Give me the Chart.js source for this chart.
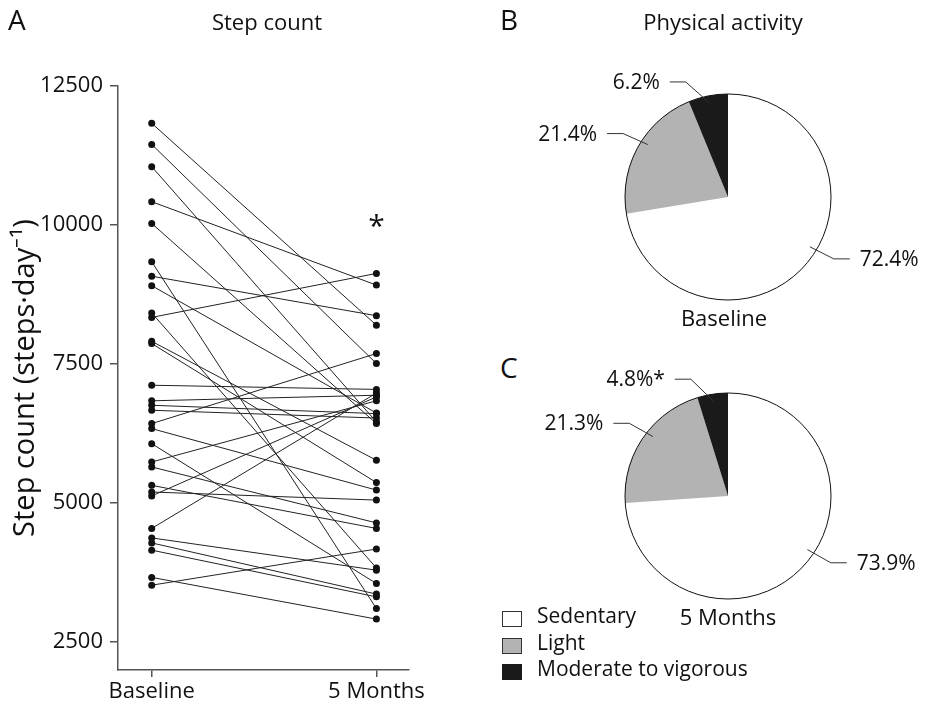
<!DOCTYPE html>
<html>
<head>
<meta charset="utf-8">
<script src="https://cdn.jsdelivr.net/npm/chart.js@4/dist/chart.umd.min.js"></script>
<style>
  body { margin: 0; background: #fff; }
  #page { position: relative; width: 928px; height: 707px; font-family: "Open Sans", sans-serif; color: #111; }
  #page canvas { position: absolute; }
  .txt { position: absolute; line-height: 1; white-space: nowrap; }
  .panel { font-size: 28px; }
  .head { font-size: 22px; text-align: center; width: 240px; }
  .legend-row { position: absolute; left: 502px; height: 18px; font-size: 21px; line-height: 1; }
  .legend-row span.box { position: absolute; left: 0; top: 3px; width: 18px; height: 14px; border: 1.5px solid #333; }
  .legend-row span.lbl { position: absolute; left: 35px; top: -3px; white-space: nowrap; }
</style>
</head>
<body>
<div id="page">
  <canvas id="stepChart" width="470" height="707" style="left:0;top:0"></canvas>
  <canvas id="pieBaseline" width="400" height="280" style="left:528px;top:57px"></canvas>
  <canvas id="pieMonths" width="400" height="280" style="left:528px;top:356px"></canvas>

  <div class="txt panel" style="left:8px;top:5px">A</div>
  <div class="txt head" style="left:147px;top:10px">Step count</div>
  <div class="txt panel" style="left:500px;top:5px">B</div>
  <div class="txt head" style="left:603px;top:10px">Physical activity</div>
  <div class="txt panel" style="left:500px;top:353px">C</div>
  <div class="txt head" style="left:604px;top:306px">Baseline</div>
  <div class="txt head" style="left:608px;top:605px">5 Months</div>

  <div id="legend"></div>
</div>
<script>
// step count per participant (steps/day)
const timepoints = ["Baseline", "5 Months"];
const baselineSteps = [
  11830, 11450, 11050, 10420, 10030, 9340, 9080, 8910, 8420, 8340,
  7910, 7870, 7120, 6840, 6760, 6670, 6430, 6340, 6070, 5740,
  5650, 5320, 5200, 5130, 4545, 4375, 4285, 4155, 3665, 3525
];
const monthSteps = [
  8200, 7510, 6460, 8920, 6430, 3105, 8370, 6620, 3835, 9130,
  5770, 5370, 7045, 6940, 6610, 6530, 7690, 5235, 3555, 6840,
  4645, 4545, 5055, 6910, 6980, 3795, 3365, 3315, 2915, 4175
];
const stepTicks = [2500, 5000, 7500, 10000, 12500];

// share of monitored time (%)
const activityLevels = ["Sedentary", "Light", "Moderate to vigorous"];
const activityColors = ["#ffffff", "#b3b3b3", "#1a1a1a"];
const activityBaseline = [72.4, 21.4, 6.2];
const activityMonths = [73.9, 21.3, 4.8];
const markBaseline = ["", "", ""];
const markMonths = ["", "", "*"];

const FONT = "'Open Sans', sans-serif";
const INK = "#111";
const AXIS = "#555";

// asterisk over the 5 month column
const sigMark = {
  id: "sigMark",
  afterDatasetsDraw(chart) {
    const { ctx, scales } = chart;
    const x = scales.x.getPixelForValue(1);
    const y = scales.y.getPixelForValue(Math.max(...monthSteps)) - 52;
    ctx.save();
    ctx.font = "30px " + FONT;
    ctx.fillStyle = INK;
    ctx.textAlign = "center";
    ctx.textBaseline = "middle";
    ctx.fillText("*", x, y + 6);
    ctx.restore();
  }
};

const pairs = baselineSteps.map((b, i) => ({
  data: [{ x: 0, y: b }, { x: 1, y: monthSteps[i] }],
  showLine: true,
  borderColor: "#222",
  borderWidth: 1,
  backgroundColor: INK,
  pointRadius: 3.5,
  pointBorderWidth: 0
}));

new Chart(document.getElementById("stepChart"), {
  type: "scatter",
  data: { datasets: pairs },
  options: {
    responsive: false,
    animation: false,
    layout: { padding: { top: 86, right: 61, left: 0, bottom: 0 } },
    plugins: { legend: { display: false }, tooltip: { enabled: false } },
    scales: {
      x: {
        type: "linear",
        min: -0.15,
        max: 1.145,
        afterBuildTicks: (s) => { s.ticks = [{ value: 0 }, { value: 1 }]; },
        afterFit: (s) => { s.height = 37; },
        ticks: {
          callback: (v) => timepoints[v],
          font: { family: FONT, size: 22 },
          color: INK,
          padding: 2,
          maxRotation: 0
        },
        grid: { drawOnChartArea: false, tickLength: 7, color: AXIS, lineWidth: 1.5 },
        border: { color: AXIS, width: 1.5 }
      },
      y: {
        min: 2000,
        max: 12500,
        afterBuildTicks: (s) => { s.ticks = stepTicks.map((v) => ({ value: v })); },
        afterFit: (s) => { s.width = 118; },
        ticks: {
          callback: (v) => String(v),
          font: { family: FONT, size: 22 },
          color: INK,
          padding: 7
        },
        grid: { drawOnChartArea: false, tickLength: 8, color: AXIS, lineWidth: 1.5 },
        border: { color: AXIS, width: 1.5 },
        title: {
          display: true,
          text: "Step count (steps\u00b7day\u207b\u00b9)",
          font: { family: FONT, size: 29 },
          color: INK,
          padding: { top: 8, bottom: 0 }
        }
      }
    }
  },
  plugins: [sigMark]
});

// outline plus percentage labels with leader lines
const pieLabels = {
  id: "pieLabels",
  afterDatasetsDraw(chart, args, opts) {
    const ctx = chart.ctx;
    const meta = chart.getDatasetMeta(0);
    const values = chart.data.datasets[0].data;
    const first = meta.data[0];
    const deg = Math.PI / 180;
    ctx.save();
    ctx.beginPath();
    ctx.arc(first.x, first.y, first.outerRadius, 0, Math.PI * 2);
    ctx.strokeStyle = INK;
    ctx.lineWidth = 1;
    ctx.stroke();

    ctx.font = "21px " + FONT;
    ctx.fillStyle = INK;
    ctx.textBaseline = "middle";
    meta.data.forEach((arc, i) => {
      const mid = (arc.startAngle + arc.endAngle) / 2;
      const a1 = mid + opts.startNudge[i] * deg;
      const a2 = mid + opts.elbowNudge[i] * deg;
      const r = arc.outerRadius;
      const x1 = arc.x + Math.cos(a1) * r * 0.93;
      const y1 = arc.y + Math.sin(a1) * r * 0.93;
      const x2 = arc.x + Math.cos(a2) * r * 1.19;
      const y2 = arc.y + Math.sin(a2) * r * 1.19;
      const dir = Math.cos(a2) >= 0 ? 1 : -1;
      const x3 = x2 + dir * 16;
      ctx.beginPath();
      ctx.moveTo(x1, y1);
      ctx.lineTo(x2, y2);
      ctx.lineTo(x3, y2);
      ctx.strokeStyle = "#333";
      ctx.lineWidth = 1;
      ctx.stroke();
      ctx.textAlign = dir > 0 ? "left" : "right";
      ctx.fillText(values[i].toFixed(1) + "%" + opts.marks[i], x3 + dir * 10, y2 + 1);
    });
    ctx.restore();
  }
};

function activityPie(id, values, marks) {
  return new Chart(document.getElementById(id), {
    type: "pie",
    data: {
      labels: activityLevels,
      datasets: [{ data: values, backgroundColor: activityColors, borderWidth: 0, radius: 103 }]
    },
    options: {
      responsive: false,
      animation: false,
      plugins: {
        legend: { display: false },
        tooltip: { enabled: false },
        pieLabels: { marks: marks, startNudge: [-9, 4, 0], elbowNudge: [-10, 2, -9] }
      }
    },
    plugins: [pieLabels]
  });
}

activityPie("pieBaseline", activityBaseline, markBaseline);
activityPie("pieMonths", activityMonths, markMonths);

// legend for the activity pies
const legend = document.getElementById("legend");
activityLevels.forEach((name, i) => {
  const row = document.createElement("div");
  row.className = "legend-row";
  row.style.top = (608 + i * 26.7) + "px";
  row.innerHTML = '<span class="box" style="background:' + activityColors[i] +
    (i === 2 ? ';border-color:#1a1a1a' : '') + '"></span><span class="lbl">' + name + "</span>";
  legend.appendChild(row);
});
</script>
</body>
</html>
